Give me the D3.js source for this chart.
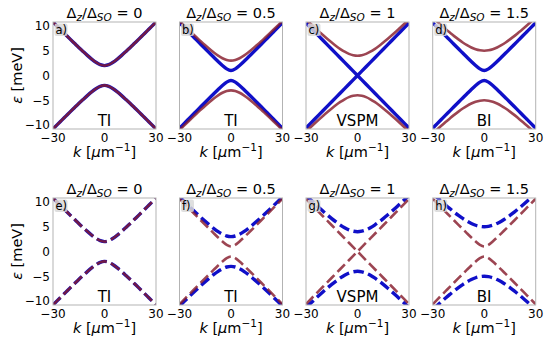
<!DOCTYPE html>
<html><head><meta charset="utf-8">
<script src="https://cdn.jsdelivr.net/npm/d3@7"></script>
<style>body{margin:0;background:#fff}svg text{font-family:"DejaVu Sans",sans-serif;fill:#000}</style>
</head><body><svg id="c" width="550" height="345"></svg>
<script>
// ---- data ----
const kValues = [-30,-27.5,-25,-22.5,-20,-17.5,-15,-12.5,-10,-7.5,-5,-2.5,0,2.5,5,7.5,10,12.5,15,17.5,20,22.5,25,27.5,30];
const gap0Upper = [10.60,9.72,8.83,7.95,7.07,6.18,5.30,4.42,3.53,2.65,1.77,0.88,0,0.88,1.77,2.65,3.53,4.42,5.30,6.18,7.07,7.95,8.83,9.72,10.60];
const gap0Lower = [-10.60,-9.72,-8.83,-7.95,-7.07,-6.18,-5.30,-4.42,-3.53,-2.65,-1.77,-0.88,0,-0.88,-1.77,-2.65,-3.53,-4.42,-5.30,-6.18,-7.07,-7.95,-8.83,-9.72,-10.60];
const gap1Upper = [10.65,9.77,8.89,8.01,7.14,6.26,5.39,4.53,3.67,2.83,2.03,1.33,1.00,1.33,2.03,2.83,3.67,4.53,5.39,6.26,7.14,8.01,8.89,9.77,10.65];
const gap1Lower = [-10.65,-9.77,-8.89,-8.01,-7.14,-6.26,-5.39,-4.53,-3.67,-2.83,-2.03,-1.33,-1.00,-1.33,-2.03,-2.83,-3.67,-4.53,-5.39,-6.26,-7.14,-8.01,-8.89,-9.77,-10.65];
const gap2Upper = [10.79,9.92,9.06,8.20,7.34,6.50,5.66,4.85,4.06,3.32,2.67,2.19,2.00,2.19,2.67,3.32,4.06,4.85,5.66,6.50,7.34,8.20,9.06,9.92,10.79];
const gap2Lower = [-10.79,-9.92,-9.06,-8.20,-7.34,-6.50,-5.66,-4.85,-4.06,-3.32,-2.67,-2.19,-2.00,-2.19,-2.67,-3.32,-4.06,-4.85,-5.66,-6.50,-7.34,-8.20,-9.06,-9.92,-10.79];
const gap3Upper = [11.02,10.17,9.33,8.50,7.68,6.87,6.09,5.34,4.63,4.00,3.48,3.13,3.00,3.13,3.48,4.00,4.63,5.34,6.09,6.87,7.68,8.50,9.33,10.17,11.02];
const gap3Lower = [-11.02,-10.17,-9.33,-8.50,-7.68,-6.87,-6.09,-5.34,-4.63,-4.00,-3.48,-3.13,-3.00,-3.13,-3.48,-4.00,-4.63,-5.34,-6.09,-6.87,-7.68,-8.50,-9.33,-10.17,-11.02];
const gap4Upper = [11.33,10.51,9.70,8.90,8.12,7.36,6.64,5.96,5.34,4.80,4.37,4.10,4.00,4.10,4.37,4.80,5.34,5.96,6.64,7.36,8.12,8.90,9.70,10.51,11.33];
const gap4Lower = [-11.33,-10.51,-9.70,-8.90,-8.12,-7.36,-6.64,-5.96,-5.34,-4.80,-4.37,-4.10,-4.00,-4.10,-4.37,-4.80,-5.34,-5.96,-6.64,-7.36,-8.12,-8.90,-9.70,-10.51,-11.33];
const gap5Upper = [11.72,10.93,10.15,9.39,8.66,7.95,7.29,6.67,6.12,5.66,5.30,5.08,5.00,5.08,5.30,5.66,6.12,6.67,7.29,7.95,8.66,9.39,10.15,10.93,11.72];
const gap5Lower = [-11.72,-10.93,-10.15,-9.39,-8.66,-7.95,-7.29,-6.67,-6.12,-5.66,-5.30,-5.08,-5.00,-5.08,-5.30,-5.66,-6.12,-6.67,-7.29,-7.95,-8.66,-9.39,-10.15,-10.93,-11.72];

const ratioLabels = ["0","0.5","1","1.5"];
const phaseLabels = ["TI","TI","VSPM","BI"];
const panelLetters = [["a)","b)","c)","d)"],["e)","f)","g)","h)"]];
const blueGapsTop = [2,1,0,1];
const redGapsTop  = [2,3,4,5];
const blueGapsBottom = [2,3,4,5];
const redGapsBottom  = [2,1,0,1];
const xTicks = [-30,0,30];
const yTicks = [10,5,0,-5,-10];
const xDomain = [-30,30];
const yDomain = [-10.8,10.8];

const bands = {
  0:[gap0Upper,gap0Lower],1:[gap1Upper,gap1Lower],2:[gap2Upper,gap2Lower],
  3:[gap3Upper,gap3Lower],4:[gap4Upper,gap4Lower],5:[gap5Upper,gap5Lower]
};

// ---- layout ----
const svg = d3.select("#c");
const panelX = [53,179.5,306,432.7];
const panelW = 103;
const rowY = [22,198];
const panelH = 107;
const BLUE = "#1010c8", RED = "#861c2c";
const fmt = v => String(v).replace("-", "\u2212");

const rows = [
  {blue: blueGapsTop, red: redGapsTop, dash: null},
  {blue: blueGapsBottom, red: redGapsBottom, dash: "10.5,4.5"}
];

rows.forEach((row, ri) => {
  const y0 = rowY[ri];
  const y = d3.scaleLinear().domain(yDomain).range([y0+panelH, y0]);
  panelX.forEach((x0, pi) => {
    const x = d3.scaleLinear().domain(xDomain).range([x0, x0+panelW]);
    const g = svg.append("g");
    const cid = `clip${ri}${pi}`;
    svg.append("clipPath").attr("id", cid).append("rect")
      .attr("x", x0).attr("y", y0).attr("width", panelW).attr("height", panelH);

    const plot = g.append("g").attr("clip-path", `url(#${cid})`);
    const drawBand = (gap, color, width, opacity) => {
      const line = d3.line().x((d,i)=>x(kValues[i])).y(d=>y(d))
        .curve(gap === 0 ? d3.curveLinear : d3.curveMonotoneX);
      bands[gap].forEach(arr => {
        plot.append("path").attr("d", line(arr)).attr("fill","none")
          .attr("stroke", color).attr("stroke-width", width)
          .attr("stroke-opacity", opacity)
          .attr("stroke-dasharray", row.dash);
      });
    };
    drawBand(row.blue[pi], BLUE, 3.4, 1);
    drawBand(row.red[pi], RED, 2.6, 0.82);

    // frame
    g.append("rect").attr("x", x0).attr("y", y0).attr("width", panelW).attr("height", panelH)
      .attr("fill","none").attr("stroke","#b3b3b3").attr("stroke-width",1);

    // panel letter
    g.append("rect").attr("x", x0+1.5).attr("y", y0+1.5).attr("width", 13).attr("height", 12.5)
      .attr("rx",2).attr("fill","#d9d9d9").attr("opacity",0.85);
    g.append("text").attr("x", x0+2.5).attr("y", y0+12).attr("font-size",11.5)
      .text(panelLetters[ri][pi]);

    // phase label
    g.append("text").attr("x", x0+panelW/2).attr("y", y0+panelH-3)
      .attr("text-anchor","middle").attr("font-size",15).text(phaseLabels[pi]);

    // title
    const t = g.append("text").attr("x", x0+panelW/2).attr("y", y0-4)
      .attr("text-anchor","middle").attr("font-size",14.5);
    t.append("tspan").text("\u0394");
    t.append("tspan").attr("font-style","italic").attr("font-size",10.5).attr("dy",3).text("z");
    t.append("tspan").attr("dy",-3).text("/\u0394");
    t.append("tspan").attr("font-style","italic").attr("font-size",10.5).attr("dy",3).text("SO");
    t.append("tspan").attr("dy",-3).text(" = " + ratioLabels[pi]);

    // x ticks
    xTicks.forEach(v => {
      g.append("text").attr("x", x(v)).attr("y", y0+panelH+12.5)
        .attr("text-anchor","middle").attr("font-size",12).text(fmt(v));
    });
    // x label
    const xl = g.append("text").attr("x", x0+panelW/2).attr("y", y0+panelH+28)
      .attr("text-anchor","middle").attr("font-size",14.5);
    xl.append("tspan").attr("font-style","italic").text("k");
    xl.append("tspan").text(" [");
    xl.append("tspan").attr("font-style","italic").text("\u03bc");
    xl.append("tspan").text("m");
    xl.append("tspan").attr("font-size",10.5).attr("dy",-6).text("\u22121");
    xl.append("tspan").attr("dy",6).text("]");

    if (pi === 0) {
      yTicks.forEach(v => {
        g.append("text").attr("x", x0-3).attr("y", y(v)+4.3)
          .attr("text-anchor","end").attr("font-size",12).text(fmt(v));
      });
      const yl = g.append("text")
        .attr("transform", `translate(22,${y0+panelH/2}) rotate(-90)`)
        .attr("text-anchor","middle").attr("font-size",14.5);
      yl.append("tspan").attr("font-style","italic").text("\u03b5");
      yl.append("tspan").text(" [meV]");
    }
  });
});
</script></body></html>
